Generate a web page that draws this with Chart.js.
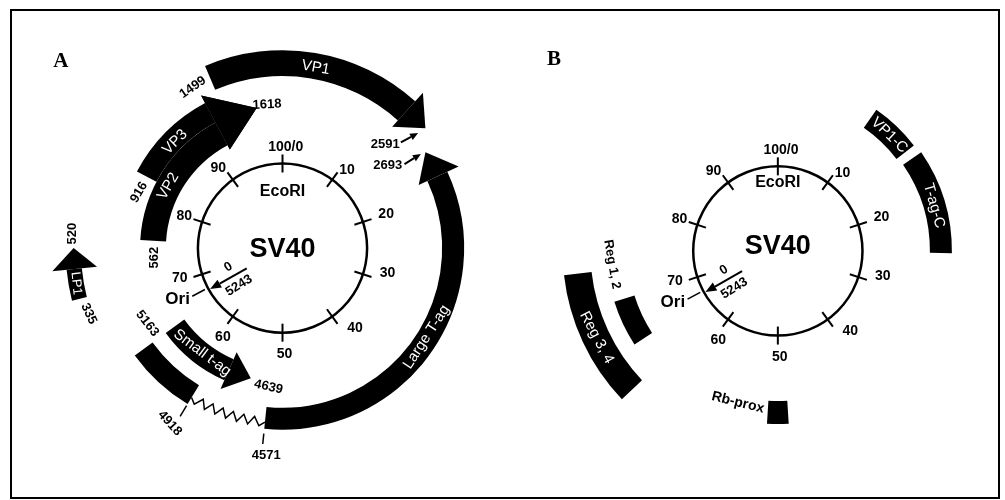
<!DOCTYPE html>
<html lang="en">
<head>
<meta charset="UTF-8">
<title>SV40 genome map</title>
<script src="https://cdn.jsdelivr.net/npm/chart.js"></script>
<style>
    html, body { margin: 0; padding: 0; background: #fff; }
    body { width: 1005px; height: 500px; position: relative; overflow: hidden; }
    .frame { position: absolute; left: 10px; top: 9px; width: 990px; height: 490px; border: 2.5px solid #000; box-sizing: border-box; }
    .panel { position: absolute; top: 0; height: 500px; }
    #panelA { left: 0; width: 500px; }
    #panelB { left: 500px; width: 505px; }
</style>
</head>
<body>
<div class="frame"></div>
<div class="panel" id="panelA"><canvas id="mapA"></canvas></div>
<div class="panel" id="panelB"><canvas id="mapB"></canvas></div>

<script>
    // Map units of the SV40 circle (0-100, clockwise, EcoRI at the top)
    const mapTicks = [0, 10, 20, 30, 40, 50, 60, 70, 80, 90];
    const mapTickLabels = ['100/0', '10', '20', '30', '40', '50', '60', '70', '80', '90'];
    const oriMapUnit = 66.8;

    // Panel A - transcripts, start / end (arrow tip) in map units
    const genesA = ['VP1', 'VP2', 'VP3', 'Large T-ag', 'Large T-ag exon 1', 'Small t-ag', 'LP1'];
    const genesAStart = [93.6, 75.9, 82.7, 51.6, 65.0, 65.0, 71.1];
    const genesAEnd = [13.9, 97.1, 97.1, 15.6, 58.7, 53.8, 75.0];

    // Panel B - regions, start / end in map units
    const regionsB = ['VP1-C', 'T-ag-C', 'Reg 1, 2', 'Reg 3, 4', 'Rb-prox'];
    const regionsBStart = [9.7, 15.4, 65.8, 62.9, 49.0];
    const regionsBEnd = [14.5, 25.2, 70.2, 73.2, 51.0];

    // ---------- styling / layout ----------
    const SANS = "'Liberation Sans', Arial, sans-serif";
    const CIRCLE_R = 88.5;

    const trackStyle = {
        'VP1':               { rIn: 180, rOut: 207, head: { len: 2.2, rIn: 171, rOut: 219 } },
        'VP2':               { rIn: 122, rOut: 149, head: { len: 4.9, rIn: 117, rOut: 181 } },
        'VP3':               { rIn: 149, rOut: 172, head: { len: 4.9, rIn: 117, rOut: 181 } },
        'Large T-ag':        { rIn: 167, rOut: 190, head: { len: 2.5, rIn: 157, rOut: 203 } },
        'Large T-ag exon 1': { rIn: 168, rOut: 191 },
        'Small t-ag':        { rIn: 127, rOut: 151, head: { len: 2.8, rIn: 119, rOut: 161 } },
        'LP1':               { rIn: 211, rOut: 227, head: { len: 1.6, rIn: 195, rOut: 242 } },
        'VP1-C':             { rIn: 157, rOut: 180 },
        'T-ag-C':            { rIn: 159, rOut: 182 },
        'Reg 1, 2':          { rIn: 157, rOut: 179 },
        'Reg 3, 4':          { rIn: 196, rOut: 225 },
        'Rb-prox':           { rIn: 157, rOut: 181 }
    };

    const fonts = {
        tick:  'bold 14px ' + SANS,
        bp:    'bold 13px ' + SANS,
        gene:  '15px ' + SANS,
        small: '13px ' + SANS,
        eco:   'bold 16px ' + SANS,
        title: 'bold 27px ' + SANS,
        ori:   'bold 17px ' + SANS,
        dark:  'bold 14px ' + SANS,
        panel: "bold 21px 'Liberation Serif', 'Times New Roman', serif"
    };

    // label anchors: [map unit, radius], rotation in degrees
    const tickLabelPos = [[0.5, 106], [11, 106], [20, 114], [28.8, 113], [38.3, 113],
                          [49.7, 111], [59.4, 112], [70.5, 112], [80, 108], [89.2, 107]];

    const commonText = [
        { t: 'Ori', mu: 67.8, r: 122, rot: 0, f: 'ori' },
        { t: '0', mu: 69.6, r: 60, rot: -30, f: 'bp' },
        { t: '5243', mu: 63.7, r: 60, rot: -32, f: 'bp' }
    ];

    const panelA = {
        letter: { t: 'A', x: -232, y: 195 },
        eco: 59, titleY: -2,
        names: genesA, start: genesAStart, end: genesAEnd,
        intron: { from: 4, to: 3, r: 183 },
        marks: [{ gene: 4, at: 'end', r0: 193, r1: 206 }, { gene: 3, at: 'start', r0: 195, r1: 206 }],
        pointers: [{ mu0: 13.4, r0: 166, mu1: 13.8, r1: 186 }, { mu0: 15.4, r0: 155, mu1: 15.5, r1: 175 }],
        text: [
            { t: 'VP1', mu: 2.9, r: 192, rot: 10, f: 'gene', c: '#fff' },
            { t: 'VP3', mu: 87.4, r: 158, rot: -45, f: 'gene', c: '#fff' },
            { t: 'VP2', mu: 82.9, r: 136, rot: -60, f: 'gene', c: '#fff' },
            { t: 'Large T-ag', mu: 33.8, r: 177, rot: -57, f: 'gene', c: '#fff' },
            { t: 'Small t-ag', mu: 60.4, r: 138, rot: 37, f: 'gene', c: '#fff' },
            { t: 'LP1', mu: 72.3, r: 219, rot: 84, f: 'small', c: '#fff' },
            { t: '1499', mu: 91.9, r: 192.5, rot: -35, f: 'bp' },
            { t: '1618', mu: 98.3, r: 151, rot: -3, f: 'bp' },
            { t: '916', mu: 80.9, r: 161, rot: -60, f: 'bp' },
            { t: '562', mu: 73.8, r: 134, rot: -90, f: 'bp' },
            { t: '520', mu: 76.1, r: 220.5, rot: -90, f: 'bp' },
            { t: '335', mu: 69.8, r: 214, rot: 65, f: 'bp' },
            { t: '5163', mu: 66.9, r: 162, rot: 52, f: 'bp' },
            { t: '4639', mu: 51.6, r: 146, rot: 13, f: 'bp' },
            { t: '4918', mu: 59.1, r: 218, rot: 48, f: 'bp' },
            { t: '4571', mu: 51.25, r: 218, rot: 0, f: 'bp' },
            { t: '2591', mu: 12.4, r: 153, rot: 0, f: 'bp' },
            { t: '2693', mu: 14.4, r: 140, rot: 0, f: 'bp' }
        ]
    };

    const panelB = {
        letter: { t: 'B', x: -234, y: 200 },
        eco: 72, titleY: 5,
        names: regionsB, start: regionsBStart, end: regionsBEnd,
        marks: [], pointers: [],
        text: [
            { t: 'VP1-C', mu: 12.2, r: 168, rot: 44, f: 'gene', c: '#fff' },
            { t: 'T-ag-C', mu: 20.5, r: 170, rot: 74, f: 'gene', c: '#fff' },
            { t: 'Reg 3, 4', mu: 67.9, r: 210, rot: 62, f: 'gene', c: '#fff' },
            { t: 'Reg 1, 2', mu: 73.7, r: 174, rot: 80, f: 'bp' },
            { t: 'Rb-prox', mu: 54.1, r: 164, rot: 14, f: 'dark' }
        ]
    };

    // ---------- helpers ----------
    function toPx(chart, mu, r) {
        const a = mu / 50 * Math.PI;
        return [chart.scales.x.getPixelForValue(r * Math.sin(a)),
                chart.scales.y.getPixelForValue(r * Math.cos(a))];
    }
    function radPx(chart, r) {
        return chart.scales.x.getPixelForValue(r) - chart.scales.x.getPixelForValue(0);
    }
    const canvasAngle = mu => mu / 50 * Math.PI - Math.PI / 2;
    const sweep = (from, to) => ((((to - from) % 100) + 150) % 100) - 50;

    function drawFeature(chart, from, to, st) {
        const ctx = chart.ctx;
        const c = toPx(chart, 0, 0);
        const d = sweep(from, to);
        const dir = Math.sign(d);
        const bodyEnd = from + d - (st.head ? dir * st.head.len : 0);
        ctx.beginPath();
        ctx.arc(c[0], c[1], radPx(chart, st.rOut), canvasAngle(from), canvasAngle(bodyEnd), dir < 0);
        ctx.arc(c[0], c[1], radPx(chart, st.rIn), canvasAngle(bodyEnd), canvasAngle(from), dir > 0);
        ctx.closePath();
        ctx.fill();
        if (st.head) {
            const p1 = toPx(chart, bodyEnd, st.head.rIn);
            const p2 = toPx(chart, bodyEnd, st.head.rOut);
            const p3 = toPx(chart, from + d, (st.head.rIn + st.head.rOut) / 2);
            ctx.beginPath();
            ctx.moveTo(p1[0], p1[1]);
            ctx.lineTo(p2[0], p2[1]);
            ctx.lineTo(p3[0], p3[1]);
            ctx.closePath();
            ctx.fill();
        }
    }

    function arrowLine(ctx, a, b, headLen, headW, lw) {
        const ang = Math.atan2(b[1] - a[1], b[0] - a[0]);
        const bx = b[0] - Math.cos(ang) * headLen, by = b[1] - Math.sin(ang) * headLen;
        ctx.lineWidth = lw;
        ctx.beginPath();
        ctx.moveTo(a[0], a[1]);
        ctx.lineTo(bx, by);
        ctx.stroke();
        ctx.beginPath();
        ctx.moveTo(b[0], b[1]);
        ctx.lineTo(bx + Math.sin(ang) * headW / 2, by - Math.cos(ang) * headW / 2);
        ctx.lineTo(bx - Math.sin(ang) * headW / 2, by + Math.cos(ang) * headW / 2);
        ctx.closePath();
        ctx.fill();
    }

    function drawText(ctx, s, p) {
        ctx.save();
        ctx.translate(p[0], p[1]);
        ctx.rotate((s.rot || 0) * Math.PI / 180);
        ctx.font = fonts[s.f];
        ctx.fillStyle = s.c || '#000';
        ctx.textAlign = 'center';
        ctx.textBaseline = 'middle';
        ctx.fillText(s.t, 0, 0);
        ctx.restore();
    }

    const mapPlugin = {
        id: 'sv40map',
        beforeDatasetsDraw(chart) {
            const ctx = chart.ctx;
            const c = toPx(chart, 0, 0);
            ctx.save();
            ctx.strokeStyle = '#000';
            ctx.lineWidth = 2.5;
            ctx.beginPath();
            ctx.arc(c[0], c[1], radPx(chart, CIRCLE_R), 0, 2 * Math.PI);
            ctx.stroke();
            ctx.restore();
        },
        afterDatasetsDraw(chart, args, panel) {
            const ctx = chart.ctx;
            ctx.save();
            ctx.fillStyle = '#000';
            ctx.strokeStyle = '#000';

            // features
            panel.names.forEach((n, i) => drawFeature(chart, panel.start[i], panel.end[i], trackStyle[n]));

            // intron zigzag between the two Large T exons
            if (panel.intron) {
                const a = panel.end[panel.intron.from], b = panel.start[panel.intron.to];
                const d = sweep(a, b), n = 14;
                ctx.lineWidth = 1.5;
                ctx.beginPath();
                for (let k = 0; k <= n; k++) {
                    const rr = panel.intron.r + (k === 0 || k === n ? 0 : (k % 2 ? 4.5 : -4.5));
                    const p = toPx(chart, a + d * k / n, rr);
                    k ? ctx.lineTo(p[0], p[1]) : ctx.moveTo(p[0], p[1]);
                }
                ctx.stroke();
            }

            // position marks (4918, 4571)
            ctx.lineWidth = 1.5;
            panel.marks.forEach(m => {
                const mu = m.at === 'end' ? panel.end[m.gene] : panel.start[m.gene];
                const p0 = toPx(chart, mu, m.r0), p1 = toPx(chart, mu, m.r1);
                ctx.beginPath();
                ctx.moveTo(p0[0], p0[1]);
                ctx.lineTo(p1[0], p1[1]);
                ctx.stroke();
            });

            // small pointers (2591, 2693)
            panel.pointers.forEach(q => arrowLine(ctx, toPx(chart, q.mu0, q.r0), toPx(chart, q.mu1, q.r1), 8, 7, 2));

            // Ori arrow and leader
            arrowLine(ctx, toPx(chart, oriMapUnit, 43), toPx(chart, oriMapUnit, 87), 11, 9, 2);
            ctx.lineWidth = 1.5;
            const l0 = toPx(chart, oriMapUnit + 0.4, 92), l1 = toPx(chart, oriMapUnit + 0.4, 107);
            ctx.beginPath();
            ctx.moveTo(l0[0], l0[1]);
            ctx.lineTo(l1[0], l1[1]);
            ctx.stroke();

            // circle labels
            mapTickLabels.forEach((t, i) => drawText(ctx, { t, f: 'tick' }, toPx(chart, tickLabelPos[i][0], tickLabelPos[i][1])));
            drawText(ctx, { t: 'EcoRI', f: 'eco' }, toPx(chart, 0, panel.eco));
            drawText(ctx, { t: 'SV40', f: 'title' }, [chart.scales.x.getPixelForValue(0), chart.scales.y.getPixelForValue(panel.titleY)]);
            commonText.forEach(s => drawText(ctx, s, toPx(chart, s.mu, s.r)));
            panel.text.forEach(s => drawText(ctx, s, toPx(chart, s.mu, s.r)));

            // panel letter
            drawText(ctx, { t: panel.letter.t, f: 'panel' },
                [chart.scales.x.getPixelForValue(panel.letter.x), chart.scales.y.getPixelForValue(panel.letter.y)]);
            ctx.restore();
        }
    };

    function tickPoints() {
        return mapTicks.map(mu => ({
            x: CIRCLE_R * Math.sin(mu / 50 * Math.PI),
            y: CIRCLE_R * Math.cos(mu / 50 * Math.PI),
            mu
        }));
    }

    // cx, cy: where the circle centre sits inside the canvas
    function makeMap(id, cx, cy, w, h, panel) {
        return new Chart(document.getElementById(id), {
            type: 'scatter',
            data: {
                datasets: [{
                    label: 'map units',
                    data: tickPoints(),
                    pointStyle: 'line',
                    pointRadius: 9,
                    pointHoverRadius: 9,
                    pointBorderWidth: 2,
                    pointHoverBorderWidth: 2,
                    pointBorderColor: '#000',
                    pointRotation: c => c.raw ? c.raw.mu * 3.6 + 90 : 0
                }]
            },
            options: {
                responsive: true,
                maintainAspectRatio: false,
                animation: false,
                events: [],
                layout: { padding: 0 },
                scales: {
                    x: { type: 'linear', display: false, bounds: 'data', min: -cx, max: w - cx },
                    y: { type: 'linear', display: false, bounds: 'data', min: -(h - cy), max: cy }
                },
                plugins: {
                    legend: { display: false },
                    tooltip: { enabled: false },
                    sv40map: panel
                }
            },
            plugins: [mapPlugin]
        });
    }

    makeMap('mapA', 284, 248, 500, 500, panelA);
    makeMap('mapB', 279, 251, 505, 500, panelB);
</script>
</body>
</html>
